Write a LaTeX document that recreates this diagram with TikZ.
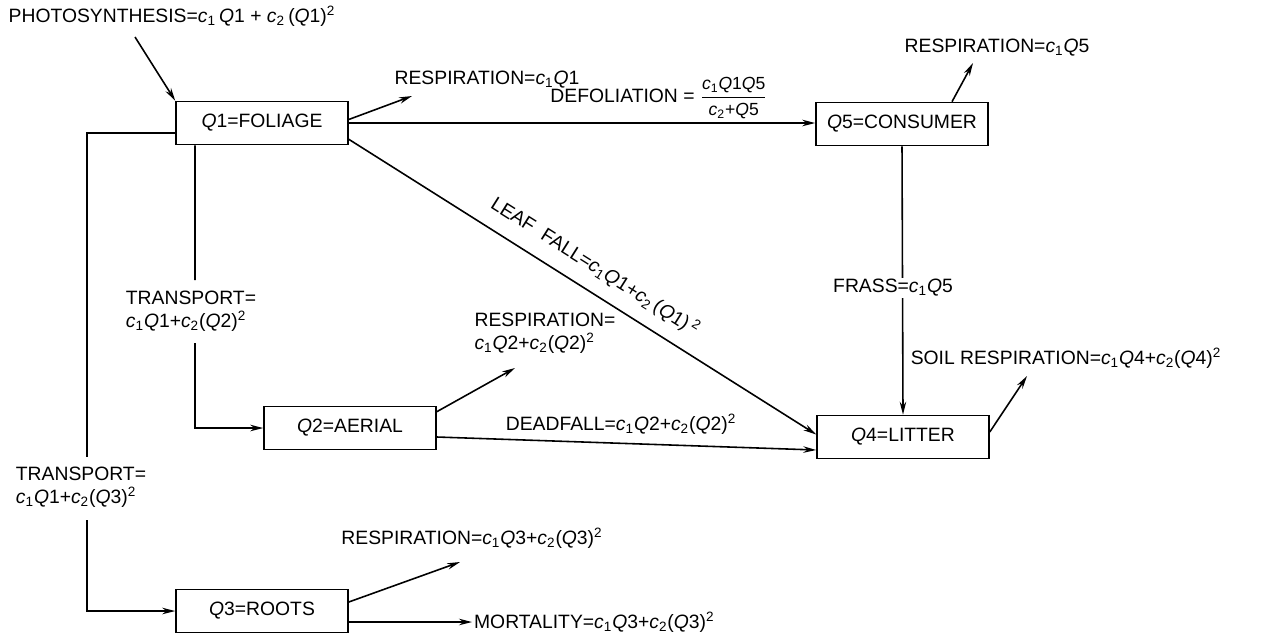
\documentclass[tikz,border=0pt]{standalone}
\usepackage{fontspec}
\setmainfont{Liberation Sans}
\usetikzlibrary{positioning,arrows.meta}
\newcommand{\ci}[1]{\textit{c}\textsubscript{#1}}
\newcommand{\qv}[1]{\textit{Q}#1}
\newcommand{\sqd}{\textsuperscript{2}}
\begin{document}
\begin{tikzpicture}[x=0.02cm,y=-0.02cm,font=\fontsize{11}{13}\selectfont,
  box/.style={draw,line width=0.9pt,minimum width=3.44cm,minimum height=0.86cm,inner sep=0pt},
  arr/.style={-{Stealth[length=2.6mm,width=1.3mm]},line width=0.9pt},
  flow/.style={line width=0.9pt},
  lbl/.style={inner sep=1pt}]
  \useasboundingbox (0,0) rectangle (1273,636);
  % compartments
  \node[box](q1) at (262,123){\qv1=FOLIAGE};
  \node[box](q5) at (902,124){\qv5=CONSUMER};
  \node[box](q2) at (350,428){\qv2=AERIAL};
  \node[box](q4) at (903,437){\qv4=LITTER};
  \node[box](q3) at (262,611){\qv3=ROOTS};
  % loose ends
  \coordinate (pstail) at (135,37);
  \coordinate (r1tip) at (412,96);
  \coordinate (r5tip) at (973,63);
  \coordinate (r2tip) at (515,368);
  \coordinate (r3tip) at (460,562);
  \coordinate (r4tip) at (1027,376);
  \coordinate (t1a) at (195,280);
  \coordinate (t1b) at (195,343);
  \coordinate (t2a) at (87,457);
  \coordinate (t2b) at (87,520);
  % labels
  \node[lbl](ps) at (172,16){PHOTOSYNTHESIS=\ci1\,\qv1 + \ci2\,(\qv1)\sqd};
  \node[lbl](resp1) at (487,80){RESPIRATION=\ci1\qv1};
  \node[lbl](defol) at (659,98){DEFOLIATION = ${\displaystyle\frac{\hbox{\fontsize{10}{12}\selectfont\ci1\qv1\qv5}}{\hbox{\fontsize{10}{12}\selectfont\ci2+\qv5}}}$};
  \node[lbl](resp5) at (997,48){RESPIRATION=\ci1\qv5};
  \node[lbl,align=left](resp2) at (545,333){RESPIRATION=\\\ci1\qv2+\ci2(\qv2)\sqd};
  \node[lbl](dead) at (621,424){DEADFALL=\ci1\qv2+\ci2(\qv2)\sqd};
  \node[lbl](soil) at (1066,358){SOIL RESPIRATION=\ci1\qv4+\ci2(\qv4)\sqd};
  \node[lbl,align=left](tr1) at (191,311){TRANSPORT=\\\ci1\qv1+\ci2(\qv2)\sqd};
  \node[lbl,align=left](tr2) at (81,487){TRANSPORT=\\\ci1\qv1+\ci2(\qv3)\sqd};
  \node[lbl](resp3) at (472,538){RESPIRATION=\ci1\qv3+\ci2(\qv3)\sqd};
  \node[lbl,anchor=west](mort) at (472,622){MORTALITY=\ci1\qv3+\ci2(\qv3)\sqd};
  % flows
  \draw[arr](pstail)--(q1.north west);
  \draw[arr]([yshift=2pt]q1.east)--(r1tip);
  \draw[arr](q1.east)--(q1.east -| q5.west);
  \draw[arr]([xshift=1cm]q5.north)--(r5tip);
  \draw[arr](q5.south)--(q4.north);
  \node[lbl,fill=white](frass) at (893,288){FRASS=\ci1\qv5};
  \draw[arr]([yshift=0.12cm]q1.south east)--([yshift=0.05cm]q4.west)
    node[midway,above=4pt,sloped]{LEAF\ \ FALL=\ci1\qv1+\ci2\,(\qv1)\,\sqd};
  \draw[arr]([yshift=-0.18cm]q2.east)--([yshift=-0.26cm]q4.west);
  \draw[arr]([yshift=-0.12cm]q2.north east)--(r2tip);
  \draw[arr]([yshift=0.1cm]q4.east)--(r4tip);
  \draw[flow]([xshift=-1.34cm]q1.south)--(t1a);
  \draw[arr](t1b)|-(q2.west);
  \draw[flow]([yshift=-0.2cm]q1.west)-|(t2a);
  \draw[arr](t2b)|-(q3.west);
  \draw[arr]([yshift=0.18cm]q3.east)--(r3tip);
  \draw[arr]([yshift=-0.22cm]q3.east)--([yshift=-0.22cm]q3.east -| mort.west);
\end{tikzpicture}
\end{document}
